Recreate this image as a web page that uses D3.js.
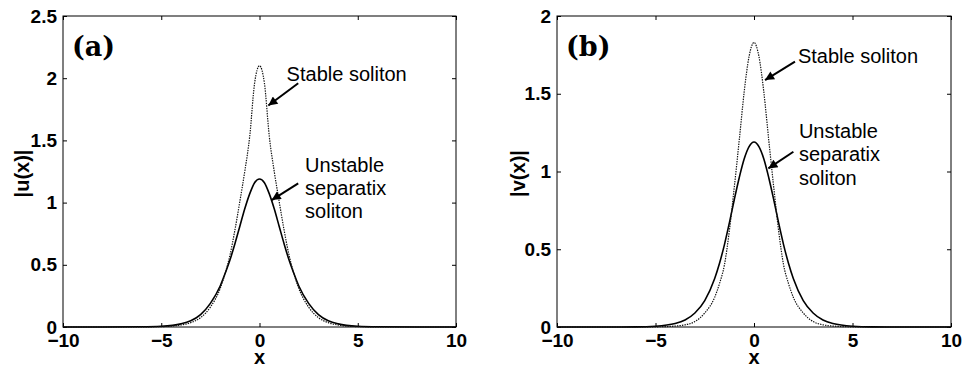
<!DOCTYPE html>
<html>
<head>
<meta charset="utf-8">
<script src="https://cdn.jsdelivr.net/npm/d3@7"></script>
<style>
  body { margin: 0; background: #fff; }
  svg { display: block; }
  .tick text { font-family: "Liberation Sans", Arial, sans-serif; font-weight: bold; font-size: 19px; fill: #000; }
  .tick line { stroke: #000; }
  .axis-label { font-family: "Liberation Sans", Arial, sans-serif; font-weight: bold; font-size: 20px; }
  .note { font-family: "Liberation Sans", Arial, sans-serif; font-size: 20px; }
  .panel-tag { font-family: "DejaVu Serif", serif; font-weight: bold; font-size: 27px; }
</style>
</head>
<body>
<svg class="chart" width="963" height="367"></svg>
<script>
// sample positions along x
var xGrid = [-10, -8, -6, -5, -4, -3.5, -3, -2.5, -2, -1.75, -1.5, -1.25, -1, -0.75, -0.5, -0.25,
             0, 0.25, 0.5, 0.75, 1, 1.25, 1.5, 1.75, 2, 2.5, 3, 3.5, 4, 5, 6, 8, 10];

// panel (a): |u(x)|
var stableU = [0, 0, 0.001, 0.003, 0.016, 0.035, 0.075, 0.16, 0.31, 0.43, 0.58, 0.78, 1.01, 1.25, 1.53, 1.96,
               2.10, 1.96, 1.53, 1.25, 1.01, 0.78, 0.58, 0.43, 0.31, 0.16, 0.075, 0.035, 0.016, 0.003, 0.001, 0, 0];
var unstableU = [0, 0, 0.0015, 0.006, 0.025, 0.05, 0.10, 0.19, 0.33, 0.43, 0.54, 0.67, 0.81, 0.95, 1.07, 1.16,
                 1.19, 1.16, 1.07, 0.95, 0.81, 0.67, 0.54, 0.43, 0.33, 0.19, 0.10, 0.05, 0.025, 0.006, 0.0015, 0, 0];

// panel (b): |v(x)|
var stableV = [0, 0, 0, 0.001, 0.006, 0.014, 0.035, 0.09, 0.19, 0.28, 0.40, 0.62, 0.90, 1.20, 1.51, 1.74,
               1.83, 1.74, 1.51, 1.20, 0.90, 0.62, 0.40, 0.28, 0.19, 0.09, 0.035, 0.014, 0.006, 0.001, 0, 0, 0];
var unstableV = [0, 0, 0.001, 0.005, 0.022, 0.045, 0.09, 0.17, 0.31, 0.41, 0.53, 0.67, 0.82, 0.96, 1.08, 1.16,
                 1.19, 1.16, 1.08, 0.96, 0.82, 0.67, 0.53, 0.41, 0.31, 0.17, 0.09, 0.045, 0.022, 0.005, 0.001, 0, 0];

var xTicks = [-10, -5, 0, 5, 10];
var yTicksA = [0, 0.5, 1, 1.5, 2, 2.5];
var yTicksB = [0, 0.5, 1, 1.5, 2];

var svg = d3.select(".chart");

svg.append("defs").append("marker")
    .attr("id", "head")
    .attr("viewBox", "0 0 10 10")
    .attr("refX", 10)
    .attr("refY", 5)
    .attr("markerUnits", "userSpaceOnUse")
    .attr("markerWidth", 11)
    .attr("markerHeight", 9)
    .attr("orient", "auto")
  .append("path")
    .attr("d", "M0,0L10,5L0,10z")
    .attr("fill", "#000");

function drawPanel(p) {
  var x = d3.scaleLinear().domain([-10, 10]).range([p.left, p.right]);
  var y = d3.scaleLinear().domain([0, p.yMax]).range([p.bottom, p.top]);
  var fmt = d3.format("~g");

  var g = svg.append("g");

  g.append("g").attr("transform", "translate(0," + p.bottom + ")")
      .call(d3.axisBottom(x).tickValues(xTicks).tickFormat(fmt).tickSize(-4).tickSizeOuter(0).tickPadding(7))
      .call(function(a) { a.select(".domain").remove(); });
  g.append("g").attr("transform", "translate(0," + p.top + ")")
      .call(d3.axisTop(x).tickValues(xTicks).tickFormat("").tickSize(-4).tickSizeOuter(0))
      .call(function(a) { a.select(".domain").remove(); });
  g.append("g").attr("transform", "translate(" + p.left + ",0)")
      .call(d3.axisLeft(y).tickValues(p.yTicks).tickFormat(fmt).tickSize(-4).tickSizeOuter(0).tickPadding(6))
      .call(function(a) { a.select(".domain").remove(); });
  g.append("g").attr("transform", "translate(" + p.right + ",0)")
      .call(d3.axisRight(y).tickValues(p.yTicks).tickFormat("").tickSize(-4).tickSizeOuter(0))
      .call(function(a) { a.select(".domain").remove(); });

  g.append("rect")
      .attr("x", p.left).attr("y", p.top)
      .attr("width", p.right - p.left).attr("height", p.bottom - p.top)
      .attr("fill", "none").attr("stroke", "#000").attr("stroke-width", 1);

  var line = d3.line()
      .x(function(d) { return x(d[0]); })
      .y(function(d) { return y(d[1]); })
      .curve(d3.curveMonotoneX);

  g.append("path")
      .datum(d3.zip(xGrid, p.unstable))
      .attr("d", line)
      .attr("fill", "none")
      .attr("stroke", "#000")
      .attr("stroke-width", 1.6);

  g.append("path")
      .datum(d3.zip(xGrid, p.stable))
      .attr("d", line)
      .attr("fill", "none")
      .attr("stroke", "#111")
      .attr("stroke-width", 1.2)
      .attr("stroke-dasharray", "1.4,1.1");

  // labels
  g.append("text").attr("class", "axis-label")
      .attr("x", x(0)).attr("y", 364)
      .attr("text-anchor", "middle")
      .text("x");
  g.append("text").attr("class", "axis-label")
      .attr("transform", "translate(" + p.yLabelX + "," + ((p.top + p.bottom) / 2 + 2) + ") rotate(-90)")
      .attr("text-anchor", "middle")
      .attr("dy", "0.35em")
      .text(p.yLabel);
  g.append("text").attr("class", "panel-tag")
      .attr("x", p.left + 9).attr("y", 56)
      .text(p.tag);

  // annotations, placed in data units
  p.notes.forEach(function(n) {
    var t = g.append("text").attr("class", "note")
        .attr("x", x(n.tx));
    n.lines.forEach(function(s, i) {
      t.append("tspan").attr("x", x(n.tx)).attr("y", y(n.ty[i])).text(s);
    });
    g.append("line")
        .attr("x1", x(n.from[0])).attr("y1", y(n.from[1]))
        .attr("x2", x(n.to[0])).attr("y2", y(n.to[1]))
        .attr("stroke", "#000").attr("stroke-width", 2)
        .attr("marker-end", "url(#head)");
  });
}

drawPanel({
  left: 63, right: 456, top: 16, bottom: 327, yMax: 2.5, yTicks: yTicksA,
  stable: stableU, unstable: unstableU, yLabel: "|u(x)|", yLabelX: 22, tag: "(a)",
  notes: [
    { lines: ["Stable soliton"], tx: 1.38, ty: [1.98], from: [1.97, 1.96], to: [0.45, 1.78] },
    { lines: ["Unstable", "separatix", "soliton"], tx: 2.32, ty: [1.246, 1.061, 0.876],
      from: [1.97, 1.155], to: [0.62, 1.02] }
  ]
});

drawPanel({
  left: 557, right: 951, top: 16, bottom: 327, yMax: 2, yTicks: yTicksB,
  stable: stableV, unstable: unstableV, yLabel: "|v(x)|", yLabelX: 518, tag: "(b)",
  notes: [
    { lines: ["Stable soliton"], tx: 2.23, ty: [1.698], from: [2.08, 1.706], to: [0.56, 1.588] },
    { lines: ["Unstable", "separatix", "soliton"], tx: 2.28, ty: [1.215, 1.068, 0.913],
      from: [2.0, 1.127], to: [0.73, 1.02] }
  ]
});
</script>
</body>
</html>
